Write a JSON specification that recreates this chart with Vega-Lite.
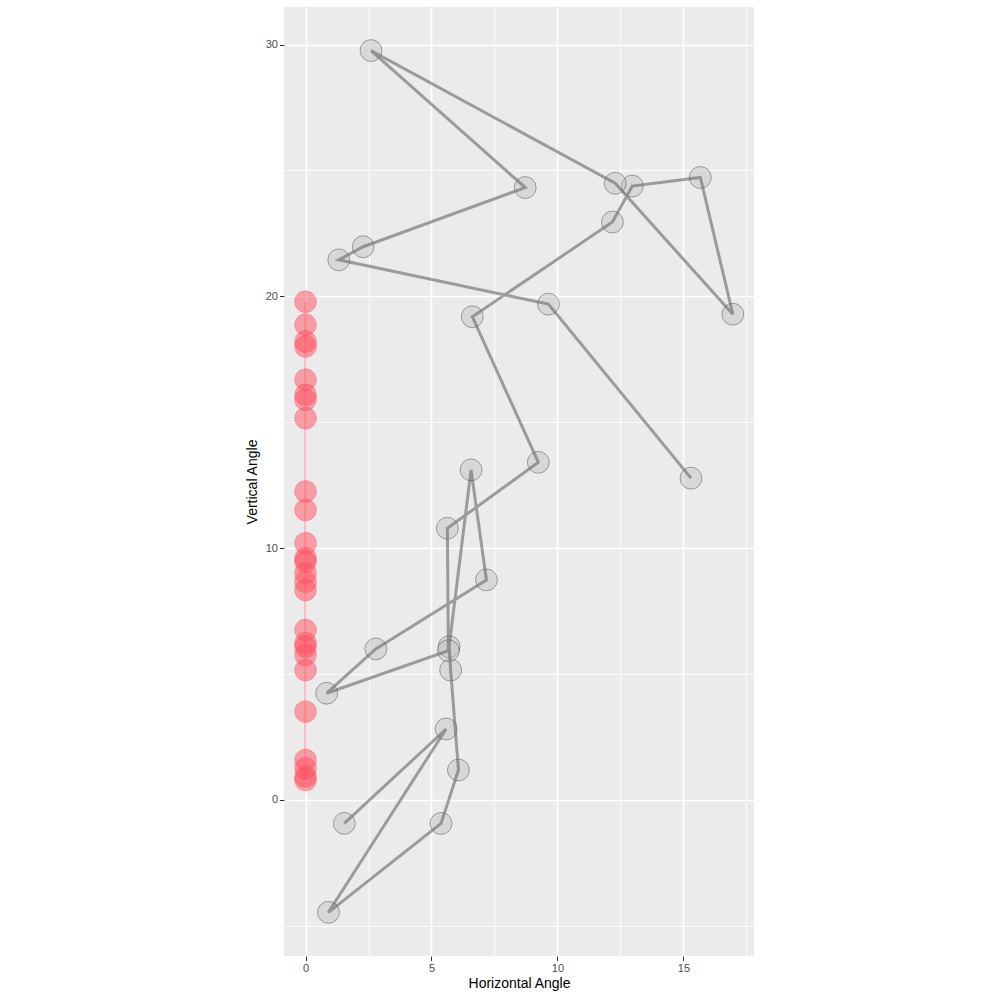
{
  "$schema": "https://vega.github.io/schema/vega-lite/v6.json",
  "autosize": "none",
  "width": 470,
  "height": 949,
  "padding": {"left": 284, "top": 7, "right": 246, "bottom": 44},
  "background": "white",
  "config": {
    "view": {"fill": "#ebebeb", "stroke": null},
    "font": "Liberation Sans",
    "axis": {
      "domain": false,
      "labelFont": "Liberation Sans",
      "labelFontSize": 11,
      "labelColor": "#4d4d4d",
      "tickColor": "#333333",
      "tickSize": 4.5,
      "labelPadding": 2,
      "titleFont": "Liberation Sans",
      "titleFontSize": 14,
      "titleFontWeight": "normal",
      "titleColor": "#000000",
      "gridColor": "#ffffff",
      "gridOpacity": 1
    }
  },
  "datasets": {
    "track": [
      {"step": 1, "h": 1.54, "v": -0.93},
      {"step": 2, "h": 5.58, "v": 2.82},
      {"step": 3, "h": 0.91, "v": -4.46},
      {"step": 4, "h": 5.38, "v": -0.93},
      {"step": 5, "h": 6.07, "v": 1.19},
      {"step": 6, "h": 5.76, "v": 5.16},
      {"step": 7, "h": 5.70, "v": 6.09},
      {"step": 8, "h": 6.57, "v": 13.11},
      {"step": 9, "h": 7.18, "v": 8.74},
      {"step": 10, "h": 2.79, "v": 6.00},
      {"step": 11, "h": 0.84, "v": 4.24},
      {"step": 12, "h": 5.67, "v": 5.93},
      {"step": 13, "h": 5.63, "v": 10.79},
      {"step": 14, "h": 9.24, "v": 13.41},
      {"step": 15, "h": 6.62, "v": 19.19},
      {"step": 16, "h": 12.18, "v": 22.95},
      {"step": 17, "h": 12.97, "v": 24.38},
      {"step": 18, "h": 15.67, "v": 24.72},
      {"step": 19, "h": 16.96, "v": 19.29},
      {"step": 20, "h": 12.29, "v": 24.49},
      {"step": 21, "h": 2.60, "v": 29.76},
      {"step": 22, "h": 8.72, "v": 24.32},
      {"step": 23, "h": 2.29, "v": 21.97},
      {"step": 24, "h": 1.32, "v": 21.45},
      {"step": 25, "h": 9.64, "v": 19.69},
      {"step": 26, "h": 15.30, "v": 12.78}
    ],
    "axisline": [
      {"step": 1, "h": 0, "v": 0.79},
      {"step": 2, "h": 0, "v": 0.93},
      {"step": 3, "h": 0, "v": 1.26},
      {"step": 4, "h": 0, "v": 1.59},
      {"step": 5, "h": 0, "v": 3.51},
      {"step": 6, "h": 0, "v": 5.16},
      {"step": 7, "h": 0, "v": 5.76},
      {"step": 8, "h": 0, "v": 6.09},
      {"step": 9, "h": 0, "v": 6.23},
      {"step": 10, "h": 0, "v": 6.75},
      {"step": 11, "h": 0, "v": 8.34},
      {"step": 12, "h": 0, "v": 8.67},
      {"step": 13, "h": 0, "v": 9.01},
      {"step": 14, "h": 0, "v": 9.47},
      {"step": 15, "h": 0, "v": 9.60},
      {"step": 16, "h": 0, "v": 10.20},
      {"step": 17, "h": 0, "v": 11.52},
      {"step": 18, "h": 0, "v": 12.25},
      {"step": 19, "h": 0, "v": 15.16},
      {"step": 20, "h": 0, "v": 15.89},
      {"step": 21, "h": 0, "v": 16.09},
      {"step": 22, "h": 0, "v": 16.69},
      {"step": 23, "h": 0, "v": 18.01},
      {"step": 24, "h": 0, "v": 18.21},
      {"step": 25, "h": 0, "v": 18.87},
      {"step": 26, "h": 0, "v": 19.79}
    ]
  },
  "encoding": {
    "x": {
      "field": "h",
      "type": "quantitative",
      "title": "Horizontal Angle",
      "scale": {"domain": [-0.854, 17.8], "nice": false, "zero": false},
      "axis": {
        "values": [0, 2.5, 5, 7.5, 10, 12.5, 15, 17.5],
        "labelExpr": "datum.value % 5 === 0 ? datum.label : ''",
        "tickOpacity": {"condition": {"test": "datum.value % 5 === 0", "value": 1}, "value": 0},
        "gridWidth": {"condition": {"test": "datum.value % 5 === 0", "value": 1.6}, "value": 0.8},
        "titlePadding": 3
      }
    },
    "y": {
      "field": "v",
      "type": "quantitative",
      "title": "Vertical Angle",
      "scale": {"domain": [-6.195, 31.49], "nice": false, "zero": false},
      "axis": {
        "values": [-5, 0, 5, 10, 15, 20, 25, 30],
        "labelExpr": "datum.value % 10 === 0 ? datum.label : ''",
        "tickOpacity": {"condition": {"test": "datum.value % 10 === 0", "value": 1}, "value": 0},
        "gridWidth": {"condition": {"test": "datum.value % 10 === 0", "value": 1.6}, "value": 0.8},
        "titlePadding": 6
      }
    },
    "order": {"field": "step", "type": "quantitative"}
  },
  "layer": [
    {
      "data": {"name": "axisline"},
      "mark": {"type": "line", "color": "#ff4d5d", "opacity": 0.25, "strokeWidth": 3},
      "encoding": {}
    },
    {
      "data": {"name": "axisline"},
      "mark": {"type": "circle", "size": 480, "fill": "#ff4d5d", "fillOpacity": 0.5, "stroke": "#ff4d5d", "strokeOpacity": 0.4, "strokeWidth": 0.7},
      "encoding": {}
    },
    {
      "data": {"name": "track"},
      "mark": {"type": "circle", "size": 480, "fill": "#bebebe", "fillOpacity": 0.45, "stroke": "#000000", "strokeOpacity": 0.45, "strokeWidth": 0.7},
      "encoding": {}
    },
    {
      "data": {"name": "track"},
      "mark": {"type": "line", "color": "#666666", "opacity": 0.6, "strokeWidth": 3},
      "encoding": {}
    }
  ]
}
